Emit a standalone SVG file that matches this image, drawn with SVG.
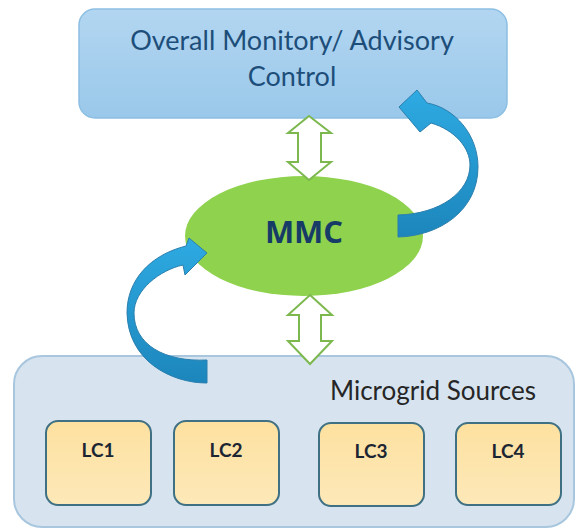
<svg xmlns="http://www.w3.org/2000/svg" width="579" height="528" viewBox="0 0 579 528">
  <style>
    .title { font-family: Lato, "Open Sans", "Liberation Sans", sans-serif; font-size: 27px; fill: #1d4e7a; text-anchor: middle; }
    .group-label { font-family: Lato, "Open Sans", "Liberation Sans", sans-serif; font-size: 26px; fill: #262626; }
    .mmc-label { font-family: "Open Sans", Lato, "Liberation Sans", sans-serif; font-size: 31px; font-weight: bold; fill: #163b66; text-anchor: middle; }
    .lc-box { fill: url(#lcFill); stroke: #3f7083; stroke-width: 2; }
    .lc-label { font-family: Lato, "Open Sans", "Liberation Sans", sans-serif; font-size: 19px; font-weight: bold; fill: #1c2633; text-anchor: middle; }
    .link { fill: #ffffff; stroke: #7cb84e; stroke-width: 2; stroke-linejoin: miter; }
    .flow { fill: url(#flowFill); stroke: #2b7fae; stroke-width: 1; }
  </style>
  <defs>
    <linearGradient id="topFill" x1="0" y1="0" x2="0" y2="1">
      <stop offset="0" stop-color="#b2d6f1"/>
      <stop offset="1" stop-color="#9ac8ea"/>
    </linearGradient>
    <linearGradient id="lcFill" x1="0" y1="0" x2="0" y2="1">
      <stop offset="0" stop-color="#fde1a0"/>
      <stop offset="1" stop-color="#fde8b8"/>
    </linearGradient>
    <linearGradient id="flowFill" x1="0" y1="0" x2="0" y2="1">
      <stop offset="0" stop-color="#2eaae2"/>
      <stop offset="1" stop-color="#1c86bc"/>
    </linearGradient>
  </defs>

  <!-- Supervisory level -->
  <g id="overall-control">
    <rect x="79" y="9" width="428" height="109" rx="16" fill="url(#topFill)" stroke="#8cbfe2" stroke-width="1.5"/>
    <text class="title" x="292" y="50">Overall Monitory/ Advisory</text>
    <text class="title" x="292" y="86">Control</text>
  </g>

  <!-- Source level -->
  <g id="microgrid-sources">
    <rect x="14" y="356" width="560" height="171" rx="28" fill="#d7e4ef" stroke="#a8c6de" stroke-width="2"/>
    <text class="group-label" x="330" y="400">Microgrid Sources</text>
  </g>
  <g id="lc1">
    <rect class="lc-box" x="46" y="421" width="105" height="84" rx="12"/>
    <text class="lc-label" x="98" y="457">LC1</text>
  </g>
  <g id="lc2">
    <rect class="lc-box" x="174" y="421" width="105" height="84" rx="12"/>
    <text class="lc-label" x="226" y="457">LC2</text>
  </g>
  <g id="lc3">
    <rect class="lc-box" x="319" y="423" width="105" height="83" rx="12"/>
    <text class="lc-label" x="371" y="458">LC3</text>
  </g>
  <g id="lc4">
    <rect class="lc-box" x="456" y="423" width="105" height="82" rx="12"/>
    <text class="lc-label" x="508" y="458">LC4</text>
  </g>

  <!-- Central controller -->
  <g id="mmc">
    <ellipse cx="304" cy="236" rx="119" ry="60" fill="#8ed24e"/>
    <text class="mmc-label" x="304" y="243">MMC</text>
  </g>

  <!-- Connectors -->
  <g id="connectors">
    <path class="link" d="M309,116 L331,133 L321,133 L321,162 L331,162 L309,180 L288,162 L298,162 L298,133 L288,133 Z"/>
    <path class="link" d="M310,295 L332,315 L321,315 L321,341 L332,341 L310,364 L288,341 L299,341 L299,315 L288,315 Z"/>
    <!-- MMC up to the supervisory level -->
    <path class="flow" d="M398,215 L398,237 C440,236 478,210 478,167 C478,135 455,108 427,103 L417,90 L399,107 L420,132 L431,123 C455,130 470,148 470,165 C470,192 440,214 398,215 Z"/>
    <!-- Sources up to the MMC -->
    <path class="flow" d="M207,360 L207,383 C170,383 128,360 127,313 C127,280 150,255 186,246 L189,238 L207,253 L185,275 L183,265 C160,270 134,290 134,313 C134,345 165,362 207,360 Z"/>
  </g>
</svg>
